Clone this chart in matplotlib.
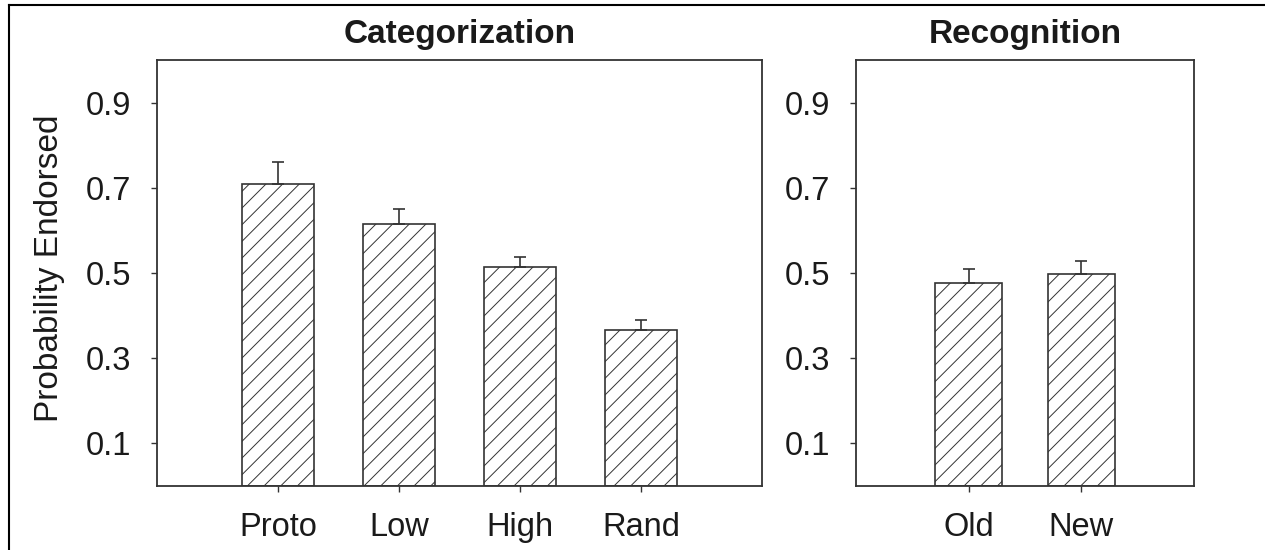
import matplotlib
matplotlib.use("Agg")
import matplotlib.pyplot as plt
from matplotlib.lines import Line2D

plt.rcParams['font.family'] = ['Liberation Sans', 'DejaVu Sans']
plt.rcParams['hatch.linewidth'] = 0.7
plt.rcParams['hatch.color'] = '#333333'

# Дані
cat_labels = ['Proto', 'Low', 'High', 'Rand']
cat_values = [0.710, 0.614, 0.514, 0.366]
cat_errors = [0.050, 0.036, 0.024, 0.023]

rec_labels = ['Old', 'New']
rec_values = [0.476, 0.498]
rec_errors = [0.034, 0.030]

y_ticks = [0.1, 0.3, 0.5, 0.7, 0.9]
edge = '#333333'

fig = plt.figure(figsize=(12.65, 5.5), dpi=100)
ax1 = fig.add_axes([157 / 1265, 1 - 486 / 550, 605 / 1265, 426 / 550])
ax2 = fig.add_axes([856 / 1265, 1 - 486 / 550, 338 / 1265, 426 / 550])


def draw_panel(ax, labels, values, errors, title, xmax):
    x = list(range(1, len(labels) + 1))
    ax.bar(x, values, width=0.6, color='white', edgecolor=edge,
           linewidth=1.2, hatch='//', zorder=2)
    ax.errorbar(x, values, yerr=[[0] * len(values), errors], fmt='none',
                ecolor=edge, elinewidth=1.2, capsize=4.5, capthick=1.2, zorder=3)
    ax.set_xlim(0, xmax)
    ax.set_ylim(0, 1.0)
    ax.set_xticks(x)
    ax.set_xticklabels(labels)
    ax.set_yticks(y_ticks)
    ax.set_yticklabels([f'{v:.1f}' for v in y_ticks])
    ax.tick_params(axis='y', length=4.5, width=1, pad=14, labelsize=23.5,
                   colors=edge, labelcolor='#1a1a1a')
    ax.tick_params(axis='x', length=4.5, width=1, pad=14, labelsize=23.5,
                   colors=edge, labelcolor='#1a1a1a')
    for s in ax.spines.values():
        s.set_color(edge)
        s.set_linewidth(1.3)
    ax.set_title(title, fontsize=24, fontweight='bold', pad=12, color='#1a1a1a')


draw_panel(ax1, cat_labels, cat_values, cat_errors, 'Categorization', 5)
draw_panel(ax2, rec_labels, rec_values, rec_errors, 'Recognition', 3)
ax1.set_ylabel('Probability Endorsed', fontsize=24, color='#1a1a1a')
ax1.yaxis.set_label_coords(-0.152, 0.51)

# Рамка навколо фігури (ліва і верхня лінії)
fx = 9 / 1265
fy = 1 - 5 / 550
fig.add_artist(Line2D([fx, fx], [0, fy], color='black', linewidth=1.5,
                      transform=fig.transFigure))
fig.add_artist(Line2D([fx, 1], [fy, fy], color='black', linewidth=1.5,
                      transform=fig.transFigure))

fig.savefig('out.png', dpi=100)
